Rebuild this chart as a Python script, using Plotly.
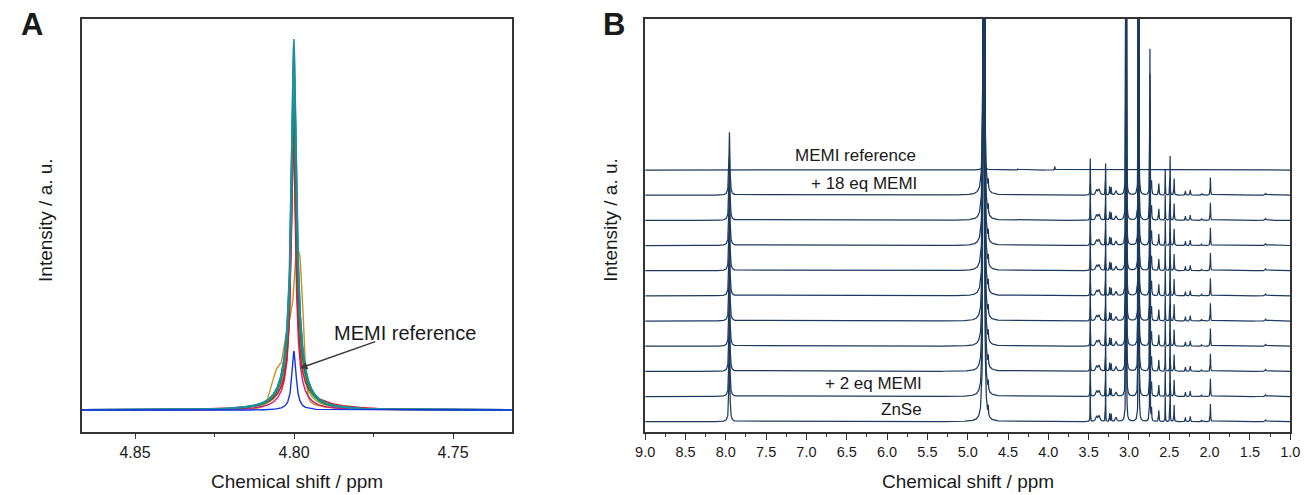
import numpy as np
import plotly.graph_objects as go

# ---------------- Panel A data: zoom on the HDO signal ----------------
A_LABELS = ["ZnSe", "+ 2 eq", "+ 4 eq", "+ 6 eq", "+ 8 eq", "+ 10 eq",
            "+ 12 eq", "+ 14 eq", "+ 16 eq", "+ 18 eq", "MEMI reference"]
A_COLORS = ["#c8901e", "#b0a02a", "#c81e8c", "#e0141e", "#1e9632", "#14884a",
            "#2a96b4", "#147a8c", "#2a9aa0", "#1e8ca0", "#1432e6"]
A_CENTER = [4.7994, 4.8001, 4.8002, 4.8001, 4.8001, 4.8000,
            4.7999, 4.8001, 4.8000, 4.8000, 4.8000]
# total apex heights (narrow + foot) of the main line of each spectrum
A_HEIGHT = [0.11, 0.72, 0.74, 0.755, 0.84, 0.83, 0.975, 0.985, 0.97, 1.0, 0.159]
A_HWHM = [0.0005, 0.0009, 0.0008, 0.0008, 0.0009, 0.0009,
          0.0009, 0.0009, 0.0009, 0.0009, 0.0008]
A_FOOT_H = [0.035, 0.10, 0.06, 0.06, 0.13, 0.13, 0.15, 0.15, 0.15, 0.15, 0.0]
A_FOOT_W = [0.005, 0.003, 0.003, 0.003, 0.003, 0.003, 0.003, 0.003, 0.003, 0.003, 0.003]
# extra components (trace index, shape, ppm, height, width)
A_EXTRA_TRACE = [0, 0, 0, 0, 3]
A_EXTRA_SHAPE = ["g", "g", "g", "g", "l"]
A_EXTRA_PPM = [4.79985, 4.79799, 4.80495, 4.80217, 4.7970]
A_EXTRA_H = [0.22, 0.27, 0.10, 0.10, 0.02]
A_EXTRA_W = [0.0014, 0.0010, 0.0019, 0.0010, 0.010]
A_DRAW_ORDER = [0, 1, 2, 3, 4, 5, 6, 7, 8, 9, 10]

# ---------------- Panel B data: full stacked spectra ----------------
B_LABELS = ["ZnSe", "+ 2 eq MEMI", "+ 4 eq MEMI", "+ 6 eq MEMI", "+ 8 eq MEMI",
            "+ 10 eq MEMI", "+ 12 eq MEMI", "+ 14 eq MEMI", "+ 16 eq MEMI",
            "+ 18 eq MEMI", "MEMI reference"]
B_SHOWN_LABELS = ["ZnSe", "+ 2 eq MEMI", "+ 18 eq MEMI", "MEMI reference"]
# peaks common to the ZnSe / titration spectra
B_PPM = [7.955, 4.800, 4.745, 3.480, 3.400, 3.370, 3.290, 3.240, 3.220, 3.160,
         3.035, 2.880, 2.740, 2.720, 2.630, 2.550, 2.490, 2.440, 2.300, 2.240,
         2.100, 1.990, 1.305]
B_HEIGHT = [2.5, 500, 0.35, 1.45, 0.2, 0.22, 1.25, 0.33, 0.3, 0.17,
            60, 60, 5.8, 0.5, 0.45, 1.0, 1.55, 0.66, 0.17, 0.21,
            0.07, 0.7, 0.07]
B_HWHM = [0.007, 0.0014, 0.003, 0.002, 0.012, 0.012, 0.002, 0.003, 0.003, 0.01,
          0.0013, 0.0013, 0.0025, 0.003, 0.004, 0.002, 0.002, 0.003, 0.003, 0.004,
          0.004, 0.003, 0.008]
# peaks of the MEMI reference spectrum
B_REF_PPM = [4.800, 4.380, 3.920]
B_REF_HEIGHT = [111, 0.05, 0.15]
B_REF_HWHM = [0.0008, 0.003, 0.003]

STACK_STEP = 1.0
FONT = "Liberation Sans, Arial, sans-serif"
TXT = "#1a1a1a"
AXC = "#333333"
W, H = 1315, 495


def lorentz(x, c, h, w):
    return h * w * w / ((x - c) ** 2 + w * w)


def gauss(x, c, h, s):
    return h * np.exp(-0.5 * ((x - c) / s) ** 2)


fig = go.Figure()

# ---- Panel A traces
xa = np.linspace(4.72, 4.88, 3201)
for i in A_DRAW_ORDER:
    y = lorentz(xa, A_CENTER[i], A_HEIGHT[i] - A_FOOT_H[i], A_HWHM[i])
    if A_FOOT_H[i] > 0:
        y = y + lorentz(xa, A_CENTER[i], A_FOOT_H[i], A_FOOT_W[i])
    for k, t in enumerate(A_EXTRA_TRACE):
        if t == i:
            f = gauss if A_EXTRA_SHAPE[k] == "g" else lorentz
            y = y + f(xa, A_EXTRA_PPM[k], A_EXTRA_H[k], A_EXTRA_W[k])
    fig.add_trace(go.Scatter(x=xa, y=y, mode="lines", name=A_LABELS[i],
                             line=dict(color=A_COLORS[i], width=1.4),
                             xaxis="x", yaxis="y", showlegend=False))

# ---- Panel B traces
xb = np.linspace(1.0, 9.0, 3201)
offs = np.array([-0.004, -0.002, -0.001, -0.0005, 0.0, 0.0005, 0.001, 0.002, 0.004])
extra = np.concatenate([c + offs for c in (B_PPM + B_REF_PPM)])
xb = np.union1d(xb, extra)
for i, lab in enumerate(B_LABELS):
    base = i * STACK_STEP
    y = np.zeros_like(xb)
    if lab == "MEMI reference":
        for c, h, w in zip(B_REF_PPM, B_REF_HEIGHT, B_REF_HWHM):
            y += lorentz(xb, c, h, w)
    else:
        for c, h, w in zip(B_PPM, B_HEIGHT, B_HWHM):
            y += lorentz(xb, c, h, w)
    fig.add_trace(go.Scatter(x=xb, y=y + base, mode="lines", name=lab,
                             line=dict(color="#1c3a5e", width=1.25),
                             xaxis="x2", yaxis="y2", showlegend=False))

# ---- axes
ydom = [1 - 432 / H, 1 - 19 / H]
common_x = dict(showline=True, linecolor=AXC, linewidth=1.5, mirror=True,
                ticks="outside", tickcolor=AXC, tickwidth=1.3, showgrid=False,
                zeroline=False)
common_y = dict(showline=True, linecolor=AXC, linewidth=1.5, mirror=True,
                ticks="", showticklabels=False, showgrid=False, zeroline=False,
                domain=ydom)

fig.update_layout(
    width=W, height=H, autosize=False, margin=dict(l=0, r=0, t=0, b=0),
    paper_bgcolor="white", plot_bgcolor="white",
    font=dict(family=FONT, color=TXT),
    xaxis=dict(domain=[73 / W, 510 / W], range=[4.8667, 4.7314],
               tick0=4.75, dtick=0.05, tickformat=".2f", ticklen=5,
               tickfont=dict(size=16, family=FONT, color=TXT),
               minor=dict(tick0=4.75, dtick=0.025, ticks="outside", ticklen=3,
                          tickcolor=AXC, tickwidth=1.2),
               anchor="y", **common_x),
    yaxis=dict(range=[-0.059, 1.054], anchor="x", **common_y),
    xaxis2=dict(domain=[645 / W, 1300 / W], range=[9.0, 1.0],
                tick0=1.0, dtick=0.5, tickformat=".1f", ticklen=6,
                tickfont=dict(size=14.5, family=FONT, color=TXT),
                minor=dict(tick0=1.0, dtick=0.25, ticks="outside", ticklen=3.5,
                           tickcolor=AXC, tickwidth=1.2),
                anchor="y2", **common_x),
    yaxis2=dict(range=[-0.41, 16.0], anchor="x2", **common_y),
)

ann = []
# panel letters
ann.append(dict(text="<b>A</b>", x=22 / W, y=1 - 24.5 / H, xref="paper", yref="paper",
                showarrow=False, font=dict(size=31, family=FONT, color=TXT),
                xanchor="center", yanchor="middle"))
ann.append(dict(text="<b>B</b>", x=613 / W, y=1 - 24.5 / H, xref="paper", yref="paper",
                showarrow=False, font=dict(size=31, family=FONT, color=TXT),
                xanchor="center", yanchor="middle"))
# axis titles
for cx in (291.5, 972.5):
    ann.append(dict(text="Chemical shift / ppm", x=cx / W, y=1 - 481 / H,
                    xref="paper", yref="paper", showarrow=False,
                    font=dict(size=19, family=FONT, color=TXT),
                    xanchor="center", yanchor="middle"))
for cx in (36, 609.5):
    ann.append(dict(text="Intensity / a. u.", x=cx / W, y=1 - 219.5 / H,
                    xref="paper", yref="paper", showarrow=False, textangle=-90,
                    font=dict(size=19, family=FONT, color=TXT),
                    xanchor="center", yanchor="middle"))
# panel A annotation with arrow
ann.append(dict(text="", x=4.79814, y=0.113, ax=4.77399, ay=0.186,
                xref="x", yref="y", axref="x", ayref="y", showarrow=True,
                arrowhead=2, arrowsize=1, arrowwidth=1.5, arrowcolor="#3a3a3a",
                standoff=0, startstandoff=0))
ann.append(dict(text="MEMI reference", x=4.76517, y=0.2075, xref="x", yref="y",
                showarrow=False, font=dict(size=20, family=FONT, color=TXT),
                xanchor="center", yanchor="middle"))
# panel B labels (right aligned)
B_LABEL_Y = {"MEMI reference": 10.56, "+ 18 eq MEMI": 9.47, "+ 2 eq MEMI": 1.50, "ZnSe": 0.49}
B_LABEL_X = {"MEMI reference": 5.617, "+ 18 eq MEMI": 5.598, "+ 2 eq MEMI": 5.544, "ZnSe": 5.544}
for lab in B_SHOWN_LABELS:
    ann.append(dict(text=lab, x=B_LABEL_X[lab], y=B_LABEL_Y[lab], xref="x2", yref="y2",
                    showarrow=False, font=dict(size=17, family=FONT, color=TXT),
                    xanchor="right", yanchor="middle"))
fig.update_layout(annotations=ann)

fig.write_html("out.html", config={"responsive": False})
